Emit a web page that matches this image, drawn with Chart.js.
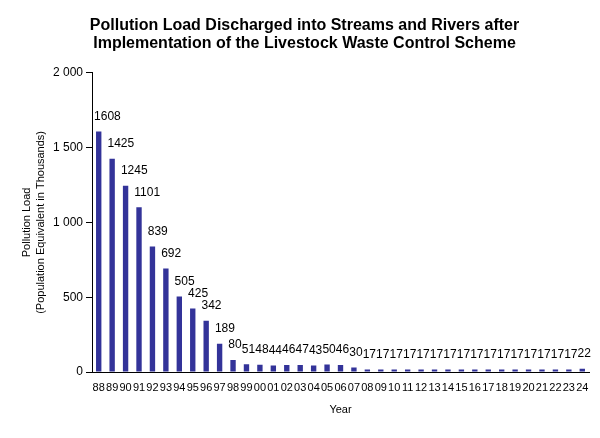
<!DOCTYPE html>
<html>
<head>
<meta charset="utf-8">
<script src="https://cdn.jsdelivr.net/npm/chart.js@4/dist/chart.umd.min.js"></script>
<style>
  html, body { margin: 0; padding: 0; background: #fff; }
  #wrap { width: 600px; height: 438px; position: relative; }
</style>
</head>
<body>
<div id="wrap"><canvas id="chart"></canvas></div>
<script>
// years 1988-2024, shown as two digits
const years = ["88","89","90","91","92","93","94","95","96","97","98","99",
  "00","01","02","03","04","05","06","07","08","09","10","11","12","13","14",
  "15","16","17","18","19","20","21","22","23","24"];

const pollutionLoad = [1608,1425,1245,1101,839,692,505,425,342,189,80,51,
  48,44,46,47,43,50,46,30,17,17,17,17,17,17,17,17,17,17,17,17,17,17,17,17,22];

const yTicks = [0, 500, 1000, 1500, 2000];

const FONT = "'Liberation Sans', Arial, sans-serif";

// value labels drawn just above each bar, left aligned like the original
const barLabels = {
  id: "barLabels",
  afterDatasetsDraw(chart) {
    const ctx = chart.ctx;
    const meta = chart.getDatasetMeta(0);
    ctx.save();
    ctx.font = "12px " + FONT;
    ctx.fillStyle = "#000";
    ctx.textAlign = "left";
    ctx.textBaseline = "bottom";
    meta.data.forEach((bar, i) => {
      const left = bar.x - bar.width / 2;
      ctx.fillText(String(pollutionLoad[i]), left - 2, bar.y - 9);
    });
    ctx.restore();
  }
};

new Chart(document.getElementById("chart"), {
  type: "bar",
  data: {
    labels: years,
    datasets: [{
      data: pollutionLoad,
      backgroundColor: "#333399",
      barPercentage: 0.4,
      categoryPercentage: 1
    }]
  },
  options: {
    responsive: true,
    maintainAspectRatio: false,
    animation: false,
    layout: { padding: { left: 20, right: 11, top: 0, bottom: 17 } },
    plugins: {
      legend: { display: false },
      tooltip: { enabled: false },
      title: {
        display: true,
        text: ["Pollution Load Discharged into Streams and Rivers after",
               "Implementation of the Livestock Waste Control Scheme"],
        color: "#000",
        font: { family: FONT, size: 16, weight: "bold", lineHeight: 1.15 },
        padding: { top: 16, bottom: 20 }
      }
    },
    scales: {
      x: {
        grid: { display: false, drawTicks: false },
        border: { color: "#000", width: 1 },
        ticks: {
          color: "#000",
          font: { family: FONT, size: 11 },
          maxRotation: 0,
          autoSkip: false,
          padding: 9
        },
        title: {
          display: true,
          text: "Year",
          color: "#000",
          font: { family: FONT, size: 11 },
          padding: { top: 8 }
        },
        afterFit(scale) { scale.height = 49; }
      },
      y: {
        min: 0,
        max: 2000,
        afterBuildTicks(scale) { scale.ticks = yTicks.map(v => ({ value: v })); },
        grid: {
          display: true,
          drawOnChartArea: false,
          drawTicks: true,
          tickLength: 6,
          color: "#000"
        },
        border: { color: "#000", width: 1 },
        ticks: {
          color: "#000",
          font: { family: FONT, size: 12 },
          padding: 3,
          callback: v => String(v).replace(/\B(?=(\d{3})+(?!\d))/g, " ")
        },
        title: {
          display: true,
          text: ["Pollution Load", "(Population Equivalent in Thousands)"],
          color: "#000",
          font: { family: FONT, size: 11, lineHeight: 1.3 },
          padding: { top: 0, bottom: 6 }
        },
        afterFit(scale) { scale.width = 72; }
      }
    }
  },
  plugins: [barLabels]
});
</script>
</body>
</html>
